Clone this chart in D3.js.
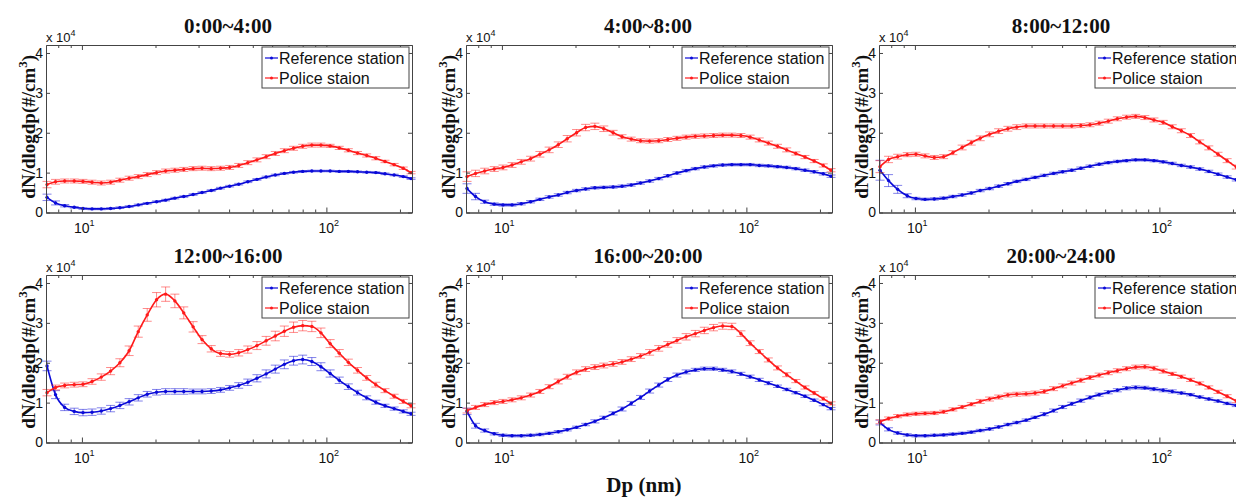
<!DOCTYPE html>
<html><head><meta charset="utf-8">
<script src="https://cdn.jsdelivr.net/npm/d3@7/dist/d3.min.js"></script>
<style>body{margin:0;background:#fff}svg{display:block}</style>
</head><body>
<svg id="chart" width="1236" height="498"></svg>
<script>
// Particle diameter bins (nm)
const dp = [7.2,7.8,8.5,9.3,10.1,11,12,13.1,14.3,15.6,17,18.5,20.2,22,24,26.1,28.5,31,33.8,36.9,40.2,43.8,47.7,52,56.7,61.8,67.3,73.4,80,87.2,95,103.6,112.9,123,134.1,146.2,159.3,173.7,189.3,206.3,222];
const titles = ["0:00~4:00","4:00~8:00","8:00~12:00","12:00~16:00","16:00~20:00","20:00~24:00"];
const seriesNames = ["Reference station","Police staion"];
const yTicks = [0,1,2,3,4];
const xMinorTicks = [8,9,20,30,40,50,60,70,80,90,200];
const xMajorTicks = [10,100];

// values in units of 10^4 #/cm3
const ref_0_4 = [.38,.24,.17,.13,.10,.09,.09,.10,.12,.15,.19,.23,.27,.31,.36,.40,.45,.50,.55,.61,.66,.71,.77,.83,.89,.94,.98,1.01,1.03,1.04,1.04,1.04,1.03,1.03,1.02,1.01,1.00,.97,.94,.90,.85];
const pol_0_4 = [.70,.77,.79,.79,.78,.76,.74,.76,.81,.86,.90,.95,1.00,1.04,1.06,1.08,1.10,1.11,1.10,1.11,1.13,1.18,1.25,1.32,1.40,1.48,1.55,1.61,1.66,1.69,1.69,1.67,1.62,1.56,1.49,1.43,1.36,1.28,1.20,1.11,1.00];
const refErr_0_4 = [.08,.05,.03,.02,.02,.02,.02,.02,.02,.02,.02,.02,.02,.02,.02,.02,.02,.02,.02,.02,.02,.02,.02,.02,.02,.02,.02,.02,.02,.02,.02,.02,.02,.02,.02,.02,.02,.02,.02,.02,.02];
const polErr_0_4 = [.08,.06,.05,.05,.05,.05,.05,.05,.05,.05,.05,.05,.05,.05,.05,.05,.05,.05,.05,.05,.05,.05,.05,.05,.05,.05,.05,.05,.05,.05,.05,.04,.04,.04,.04,.04,.04,.03,.03,.03,.03];

const ref_4_8 = [.60,.40,.27,.21,.19,.19,.22,.27,.33,.39,.44,.50,.55,.59,.62,.63,.64,.66,.69,.74,.79,.85,.92,.99,1.05,1.10,1.14,1.17,1.19,1.20,1.20,1.20,1.18,1.17,1.15,1.13,1.10,1.06,1.02,.97,.91];
const pol_4_8 = [.90,.98,1.04,1.09,1.13,1.19,1.27,1.35,1.46,1.57,1.70,1.85,2.00,2.13,2.16,2.10,2.00,1.90,1.84,1.80,1.79,1.80,1.83,1.86,1.89,1.91,1.92,1.93,1.94,1.94,1.93,1.89,1.82,1.74,1.66,1.57,1.48,1.39,1.29,1.18,1.06];
const refErr_4_8 = [.12,.08,.04,.03,.03,.03,.03,.03,.03,.03,.03,.03,.03,.03,.03,.03,.03,.03,.03,.03,.03,.03,.03,.03,.03,.03,.03,.03,.03,.03,.03,.03,.03,.03,.03,.03,.03,.03,.03,.03,.03];
const polErr_4_8 = [.12,.08,.07,.06,.06,.06,.06,.06,.07,.07,.07,.08,.08,.08,.08,.07,.06,.05,.05,.05,.05,.05,.05,.05,.05,.05,.05,.05,.05,.05,.05,.05,.05,.05,.05,.05,.04,.04,.04,.04,.04];

const ref_8_12 = [1.06,.80,.58,.42,.35,.33,.34,.36,.40,.44,.49,.55,.60,.66,.72,.78,.83,.88,.93,.98,1.02,1.06,1.11,1.16,1.21,1.25,1.28,1.30,1.32,1.32,1.30,1.27,1.23,1.18,1.14,1.09,1.03,.96,.89,.82,.77];
const pol_8_12 = [1.15,1.33,1.40,1.45,1.46,1.42,1.38,1.40,1.50,1.63,1.75,1.86,1.96,2.04,2.10,2.14,2.17,2.17,2.17,2.17,2.17,2.17,2.18,2.20,2.24,2.29,2.35,2.39,2.41,2.38,2.32,2.26,2.15,2.05,1.93,1.77,1.62,1.46,1.30,1.14,1.00];
const refErr_8_12 = [.25,.15,.10,.05,.03,.03,.03,.03,.03,.03,.03,.03,.03,.03,.03,.03,.03,.03,.03,.03,.03,.03,.03,.03,.03,.03,.03,.03,.03,.03,.03,.03,.03,.03,.03,.03,.03,.03,.03,.03,.03];
const polErr_8_12 = [.15,.08,.06,.05,.05,.05,.05,.05,.05,.06,.06,.06,.06,.06,.06,.06,.05,.05,.05,.05,.05,.05,.05,.05,.05,.05,.05,.05,.05,.05,.05,.05,.05,.05,.05,.05,.05,.05,.05,.05,.05];

const ref_12_16 = [1.92,1.20,.88,.78,.75,.76,.79,.85,.93,1.02,1.12,1.21,1.26,1.28,1.28,1.28,1.28,1.28,1.29,1.32,1.37,1.43,1.51,1.61,1.72,1.84,1.96,2.05,2.08,2.03,1.90,1.73,1.56,1.40,1.25,1.12,1.01,.92,.85,.78,.72];
const pol_12_16 = [1.25,1.38,1.43,1.45,1.46,1.53,1.64,1.79,2.00,2.30,2.78,3.20,3.58,3.72,3.55,3.25,2.90,2.58,2.35,2.23,2.21,2.25,2.33,2.43,2.55,2.67,2.79,2.89,2.93,2.91,2.75,2.48,2.24,2.01,1.81,1.62,1.45,1.30,1.16,1.03,.92];
const refErr_12_16 = [.12,.10,.08,.08,.08,.08,.08,.08,.08,.08,.08,.07,.07,.07,.07,.07,.06,.06,.06,.06,.06,.07,.08,.09,.10,.10,.11,.11,.11,.10,.10,.09,.08,.07,.06,.05,.05,.04,.04,.04,.04];
const polErr_12_16 = [.08,.06,.06,.06,.06,.07,.08,.09,.10,.12,.14,.16,.18,.18,.17,.15,.13,.10,.08,.07,.07,.08,.09,.10,.11,.12,.13,.13,.13,.13,.12,.10,.09,.08,.07,.06,.06,.05,.05,.05,.05];

const ref_16_20 = [.78,.42,.30,.22,.18,.17,.17,.18,.20,.23,.27,.32,.38,.45,.53,.62,.73,.84,.98,1.13,1.29,1.44,1.58,1.69,1.77,1.82,1.85,1.85,1.82,1.78,1.72,1.65,1.57,1.49,1.41,1.33,1.25,1.16,1.06,.95,.85];
const pol_16_20 = [.80,.88,.95,1.00,1.03,1.07,1.12,1.19,1.28,1.40,1.53,1.65,1.76,1.84,1.89,1.93,1.97,2.02,2.09,2.17,2.26,2.36,2.46,2.56,2.65,2.73,2.81,2.88,2.92,2.91,2.73,2.49,2.28,2.07,1.87,1.70,1.54,1.38,1.24,1.10,.98];
const refErr_16_20 = [.08,.06,.04,.03,.03,.03,.03,.03,.03,.03,.03,.03,.03,.03,.04,.04,.04,.05,.05,.05,.05,.05,.05,.05,.05,.04,.04,.04,.04,.04,.04,.04,.04,.04,.03,.03,.03,.03,.03,.03,.03];
const polErr_16_20 = [.06,.05,.05,.05,.05,.05,.05,.05,.05,.05,.06,.06,.06,.06,.06,.06,.06,.06,.06,.06,.07,.07,.07,.07,.08,.08,.08,.08,.08,.08,.07,.06,.05,.05,.05,.05,.04,.04,.04,.04,.04];

const ref_20_24 = [.50,.33,.24,.19,.17,.17,.18,.19,.21,.23,.26,.30,.34,.39,.45,.50,.56,.63,.71,.80,.89,.97,1.05,1.13,1.20,1.26,1.31,1.36,1.38,1.37,1.34,1.31,1.28,1.24,1.20,1.14,1.09,1.04,.98,.93,.88];
const pol_20_24 = [.52,.60,.66,.70,.72,.73,.74,.77,.83,.89,.96,1.03,1.09,1.14,1.19,1.21,1.22,1.24,1.28,1.35,1.42,1.49,1.56,1.63,1.69,1.75,1.80,1.85,1.89,1.90,1.86,1.79,1.72,1.65,1.57,1.48,1.38,1.27,1.16,1.04,.93];
const refErr_20_24 = [.06,.04,.03,.03,.03,.03,.03,.03,.03,.03,.03,.03,.03,.03,.03,.03,.03,.03,.04,.04,.04,.04,.04,.04,.04,.04,.04,.04,.04,.04,.04,.04,.04,.03,.03,.03,.03,.03,.03,.03,.03];
const polErr_20_24 = [.05,.04,.04,.04,.04,.04,.04,.04,.04,.04,.04,.05,.05,.05,.05,.05,.05,.05,.05,.05,.05,.05,.05,.05,.05,.05,.05,.05,.05,.05,.05,.05,.04,.04,.04,.04,.04,.04,.04,.04,.04];

const panels = [
  {ref: ref_0_4, pol: pol_0_4, refErr: refErr_0_4, polErr: polErr_0_4},
  {ref: ref_4_8, pol: pol_4_8, refErr: refErr_4_8, polErr: polErr_4_8},
  {ref: ref_8_12, pol: pol_8_12, refErr: refErr_8_12, polErr: polErr_8_12},
  {ref: ref_12_16, pol: pol_12_16, refErr: refErr_12_16, polErr: polErr_12_16},
  {ref: ref_16_20, pol: pol_16_20, refErr: refErr_16_20, polErr: polErr_16_20},
  {ref: ref_20_24, pol: pol_20_24, refErr: refErr_20_24, polErr: polErr_20_24}
];

const svg = d3.select("#chart");
svg.append("rect").attr("width",1236).attr("height",498).attr("fill","#fff");

const colLeft = [46, 466, 879];
const rowTop = [45, 275];
const PW = 366, PH = 167.5;
const BLUE = "#0a0ad8", RED = "#ff1a1a";
const serif = "'Liberation Serif','Times New Roman',serif";
const sans = "'Liberation Sans',Arial,sans-serif";

panels.forEach((p, i) => {
  const L = colLeft[i % 3], T = rowTop[Math.floor(i / 3)];
  const x = d3.scaleLog().domain([7.13, 224]).range([L, L + PW]);
  const y = d3.scaleLinear().domain([0, 4.2]).range([T + PH, T]);
  const g = svg.append("g");

  const series = [
    {vals: p.ref, err: p.refErr, color: BLUE},
    {vals: p.pol, err: p.polErr, color: RED}
  ];
  const line = d3.line().x(d => x(d.d)).y(d => y(d.v)).curve(d3.curveMonotoneX);
  series.forEach(s => {
    const pts = dp.map((d, k) => ({d, v: s.vals[k], e: s.err[k]}));
    const sg = g.append("g");
    const eb = sg.append("g").attr("stroke", s.color).attr("stroke-opacity", 0.5).attr("stroke-width", 1);
    pts.forEach(pt => {
      const cx = x(pt.d), y1 = y(pt.v - pt.e), y2 = y(pt.v + pt.e);
      eb.append("line").attr("x1", cx).attr("x2", cx).attr("y1", y1).attr("y2", y2);
      eb.append("line").attr("x1", cx - 4.5).attr("x2", cx + 4.5).attr("y1", y1).attr("y2", y1);
      eb.append("line").attr("x1", cx - 4.5).attr("x2", cx + 4.5).attr("y1", y2).attr("y2", y2);
    });
    sg.append("path").datum(pts).attr("d", line).attr("fill", "none").attr("stroke", s.color).attr("stroke-width", 1.6);
    sg.selectAll("circle").data(pts).join("circle")
      .attr("cx", d => x(d.d)).attr("cy", d => y(d.v)).attr("r", 1.7).attr("fill", s.color);
  });

  // axes (ticks inside, box)
  const axColor = "#444";
  const xb = g.append("g").attr("transform", `translate(0,${T + PH})`)
    .call(d3.axisBottom(x).tickValues(xMinorTicks).tickSizeInner(-3).tickSizeOuter(0).tickFormat(""));
  const xbM = g.append("g").attr("transform", `translate(0,${T + PH})`)
    .call(d3.axisBottom(x).tickValues(xMajorTicks).tickSizeInner(-5).tickSizeOuter(0).tickFormat(""));
  const xt = g.append("g").attr("transform", `translate(0,${T})`)
    .call(d3.axisTop(x).tickValues(xMinorTicks).tickSizeInner(-3).tickSizeOuter(0).tickFormat(""));
  const xtM = g.append("g").attr("transform", `translate(0,${T})`)
    .call(d3.axisTop(x).tickValues(xMajorTicks).tickSizeInner(-5).tickSizeOuter(0).tickFormat(""));
  const yl = g.append("g").attr("transform", `translate(${L},0)`)
    .call(d3.axisLeft(y).tickValues(yTicks).tickSizeInner(-4).tickSizeOuter(0).tickPadding(3).tickFormat(d3.format("d")));
  const yr = g.append("g").attr("transform", `translate(${L + PW},0)`)
    .call(d3.axisRight(y).tickValues(yTicks).tickSizeInner(-4).tickSizeOuter(0).tickFormat(""));
  [xb, xbM, xt, xtM, yl, yr].forEach(a => {
    a.selectAll("path.domain").attr("stroke", axColor).attr("stroke-width", 1);
    a.selectAll(".tick line").attr("stroke", axColor).attr("stroke-width", 1);
  });
  yl.selectAll(".tick text").attr("font-family", sans).attr("font-size", 14).attr("fill", "#111");

  // x major tick labels 10^n
  xMajorTicks.forEach(v => {
    const t = g.append("text").attr("x", x(v)).attr("y", T + PH + 20)
      .attr("font-family", sans).attr("font-size", 14).attr("fill", "#111").attr("text-anchor", "start");
    t.append("tspan").attr("x", x(v) - 8).text("10");
    t.append("tspan").attr("dy", -7).attr("font-size", 9).text(Math.round(Math.log10(v)));
  });

  // x 10^4 multiplier
  const m = g.append("text").attr("x", L).attr("y", T - 3)
    .attr("font-family", sans).attr("font-size", 13).attr("fill", "#111");
  m.append("tspan").text("x 10");
  m.append("tspan").attr("dy", -6).attr("font-size", 9).text("4");

  // title
  g.append("text").attr("x", L + PW / 2 - 1).attr("y", T - 12)
    .attr("text-anchor", "middle").attr("font-family", serif).attr("font-weight", "bold")
    .attr("font-size", 21).attr("fill", "#111").text(titles[i]);

  // y label
  const yt = g.append("text").attr("transform", `translate(${L - 11},${T + PH / 2 - 2}) rotate(-90)`)
    .attr("text-anchor", "middle").attr("font-family", serif).attr("font-weight", "bold")
    .attr("font-size", 19).attr("fill", "#111");
  yt.append("tspan").text("dN/dlogdp(#/cm");
  yt.append("tspan").attr("dy", -8).attr("font-size", 13).text("3");
  yt.append("tspan").attr("dy", 8).text(")");

  // legend
  const lx = L + 216, ly = T + 2;
  const lg = g.append("g");
  lg.append("rect").attr("x", lx).attr("y", ly).attr("width", 147).attr("height", 41)
    .attr("fill", "#fff").attr("stroke", "#444").attr("stroke-width", 1);
  [BLUE, RED].forEach((c, k) => {
    const yy = ly + 11 + k * 20;
    lg.append("line").attr("x1", lx + 3).attr("x2", lx + 16).attr("y1", yy).attr("y2", yy)
      .attr("stroke", c).attr("stroke-width", 1.2);
    lg.append("circle").attr("cx", lx + 9.5).attr("cy", yy).attr("r", 1.5).attr("fill", c);
    lg.append("text").attr("x", lx + 17).attr("y", yy + 6).attr("font-family", sans)
      .attr("font-size", 16).attr("fill", "#111").text(seriesNames[k]);
  });
});

svg.append("text").attr("x", 644).attr("y", 492).attr("text-anchor", "middle")
  .attr("font-family", serif).attr("font-weight", "bold").attr("font-size", 21)
  .attr("fill", "#111").text("Dp (nm)");
</script>
</body></html>
